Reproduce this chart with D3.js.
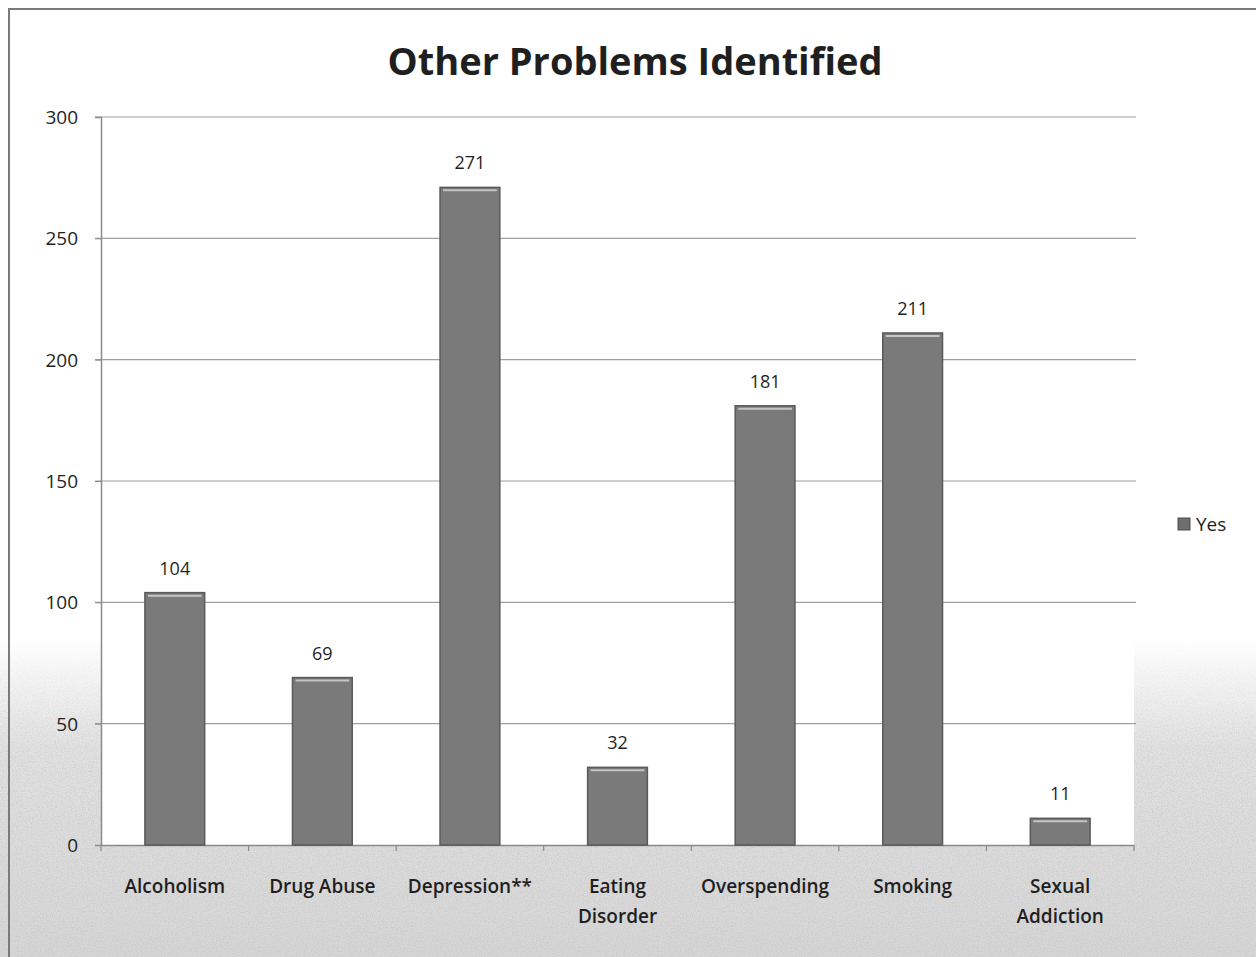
<!DOCTYPE html>
<html>
<head>
<meta charset="utf-8">
<script src="https://cdn.jsdelivr.net/npm/d3@7"></script>
<style>
  html, body { margin: 0; padding: 0; background: #fff; }
  svg { display: block; }
  text { font-family: "Open Sans", "Liberation Sans", sans-serif; fill: #1f1f1f; }
</style>
</head>
<body>
<svg id="chart" width="1256" height="957"></svg>
<script>
// Chart data
const categories = ["Alcoholism", "Drug Abuse", "Depression**", "Eating Disorder", "Overspending", "Smoking", "Sexual Addiction"];
const categoryLines = [["Alcoholism"], ["Drug Abuse"], ["Depression**"], ["Eating", "Disorder"], ["Overspending"], ["Smoking"], ["Sexual", "Addiction"]];
const yesValues = [104, 69, 271, 32, 181, 211, 11];
const yTicks = [0, 50, 100, 150, 200, 250, 300];
const seriesName = "Yes";
const chartTitle = "Other Problems Identified";

const W = 1256, H = 957;
const margin = { left: 101, right: 122, top: 117, bottom: 112 };
const svg = d3.select("#chart");
const defs = svg.append("defs");

// Page backdrop: white fading into a grainy grey toward the bottom
const bg = defs.append("linearGradient").attr("id", "bgfade")
  .attr("gradientUnits", "userSpaceOnUse").attr("x1", 0).attr("y1", 0).attr("x2", 0).attr("y2", H);
bg.append("stop").attr("offset", "0%").attr("stop-color", "#ffffff");
bg.append("stop").attr("offset", "67%").attr("stop-color", "#ffffff");
bg.append("stop").attr("offset", "78%").attr("stop-color", "#e2e2e2");
bg.append("stop").attr("offset", "100%").attr("stop-color", "#d6d6d6");

// Mask that lets the grain appear only where the grey begins
const fadeMask = defs.append("linearGradient").attr("id", "maskfade")
  .attr("gradientUnits", "userSpaceOnUse").attr("x1", 0).attr("y1", 0).attr("x2", 0).attr("y2", H);
fadeMask.append("stop").attr("offset", "66%").attr("stop-color", "#000");
fadeMask.append("stop").attr("offset", "80%").attr("stop-color", "#fff");
fadeMask.append("stop").attr("offset", "100%").attr("stop-color", "#fff");
defs.append("mask").attr("id", "grainmask").attr("maskUnits", "userSpaceOnUse")
  .attr("x", 0).attr("y", 0).attr("width", W).attr("height", H)
  .append("rect").attr("width", W).attr("height", H).attr("fill", "url(#maskfade)");

const grain = defs.append("filter").attr("id", "grain").attr("x", 0).attr("y", 0).attr("width", 1).attr("height", 1);
grain.append("feTurbulence").attr("type", "fractalNoise").attr("baseFrequency", 0.8).attr("numOctaves", 2).attr("seed", 3).attr("result", "noise");
grain.append("feColorMatrix").attr("in", "noise").attr("type", "matrix")
  .attr("values", "0 0 0 0 0.5  0 0 0 0 0.5  0 0 0 0 0.5  0 0 0 1.1 -0.45");

svg.append("rect").attr("width", W).attr("height", H).attr("fill", "url(#bgfade)");
svg.append("g").attr("mask", "url(#grainmask)")
  .append("rect").attr("x", 0).attr("y", 0).attr("width", W).attr("height", H)
  .attr("fill", "#fff").attr("filter", "url(#grain)");

// Chart border
svg.append("path").attr("d", `M9,${H} L9,9 L${W},9`).attr("fill", "none").attr("stroke", "#7a7a7a").attr("stroke-width", 2);

const x = d3.scaleBand().domain(categories).range([margin.left, W - margin.right]).paddingInner(0.595).paddingOuter(0.2975);
const y = d3.scaleLinear().domain([0, 300]).range([H - margin.bottom, margin.top]);

// Plot area
svg.append("rect").attr("x", margin.left).attr("y", margin.top)
  .attr("width", W - margin.left - margin.right).attr("height", y(0) - margin.top).attr("fill", "#ffffff");

// Gridlines
svg.append("g").selectAll("line").data(yTicks.filter(d => d > 0)).join("line")
  .attr("x1", margin.left - 6).attr("x2", W - margin.right + 2)
  .attr("y1", d => y(d)).attr("y2", d => y(d))
  .attr("stroke", "#a0a0a0").attr("stroke-width", 1.2);

// Y axis
const yAxis = svg.append("g").attr("transform", `translate(${margin.left},0)`)
  .call(d3.axisLeft(y).tickValues(yTicks).tickSize(6).tickPadding(17));
yAxis.select(".domain").attr("stroke", "#8a8a8a").attr("stroke-width", 1.5);
yAxis.selectAll(".tick line").attr("stroke", "#8a8a8a");
yAxis.selectAll(".tick text").style("font-size", "19px").style("font-weight", 500).attr("fill", "#1f1f1f").attr("dy", "0.35em");

// X axis baseline and category separators
const xAxis = svg.append("g").attr("transform", `translate(0,${y(0)})`)
  .call(d3.axisBottom(x).tickSize(0).tickFormat(""));
xAxis.select(".domain").attr("stroke", "#8a8a8a").attr("stroke-width", 1.5);
const plotW = W - margin.left - margin.right;
svg.append("g").selectAll("line").data(d3.range(categories.length + 1)).join("line")
  .attr("x1", i => margin.left + i * plotW / categories.length)
  .attr("x2", i => margin.left + i * plotW / categories.length)
  .attr("y1", y(0)).attr("y2", y(0) + 6)
  .attr("stroke", "#8a8a8a").attr("stroke-width", 1.2);

// Category labels
const labels = svg.append("g").selectAll("text").data(categories).join("text")
  .attr("x", d => x(d) + x.bandwidth() / 2).attr("y", y(0) + 48)
  .attr("text-anchor", "middle").style("font-size", "19px").style("font-weight", 600);
labels.each(function(d, i) {
  d3.select(this).selectAll("tspan").data(categoryLines[i]).join("tspan")
    .attr("x", x(d) + x.bandwidth() / 2).attr("dy", (t, j) => j === 0 ? 0 : "1.6em").text(t => t);
});

// Bars
const bars = svg.append("g").selectAll("g").data(categories).join("g");
bars.append("rect")
  .attr("x", d => x(d)).attr("width", x.bandwidth())
  .attr("y", (d, i) => y(yesValues[i])).attr("height", (d, i) => y(0) - y(yesValues[i]))
  .attr("fill", "#7a7a7a").attr("stroke", "#5a5a5a").attr("stroke-width", 1.5);
bars.append("line")
  .attr("x1", d => x(d) + 3).attr("x2", d => x(d) + x.bandwidth() - 3)
  .attr("y1", (d, i) => y(yesValues[i]) + 3).attr("y2", (d, i) => y(yesValues[i]) + 3)
  .attr("stroke", "#c4c4c4").attr("stroke-width", 2);

// Value labels
svg.append("g").selectAll("text").data(categories).join("text")
  .attr("x", d => x(d) + x.bandwidth() / 2)
  .attr("y", (d, i) => y(yesValues[i]) - 18)
  .attr("text-anchor", "middle").style("font-size", "18px").style("font-weight", 500)
  .text((d, i) => yesValues[i]);

// Title
svg.append("text").attr("x", 635).attr("y", 75).attr("text-anchor", "middle")
  .style("font-size", "38px").style("font-weight", 700).attr("fill", "#1c1c1c")
  .text(chartTitle);

// Legend
const lg = svg.append("g").attr("transform", "translate(1178,518)");
lg.append("rect").attr("width", 12).attr("height", 12).attr("fill", "#6e6e6e").attr("stroke", "#4a4a4a");
lg.append("text").attr("x", 18).attr("y", 6).attr("dy", "0.35em").style("font-size", "19px").style("font-weight", 500).text(seriesName);
</script>
</body>
</html>
